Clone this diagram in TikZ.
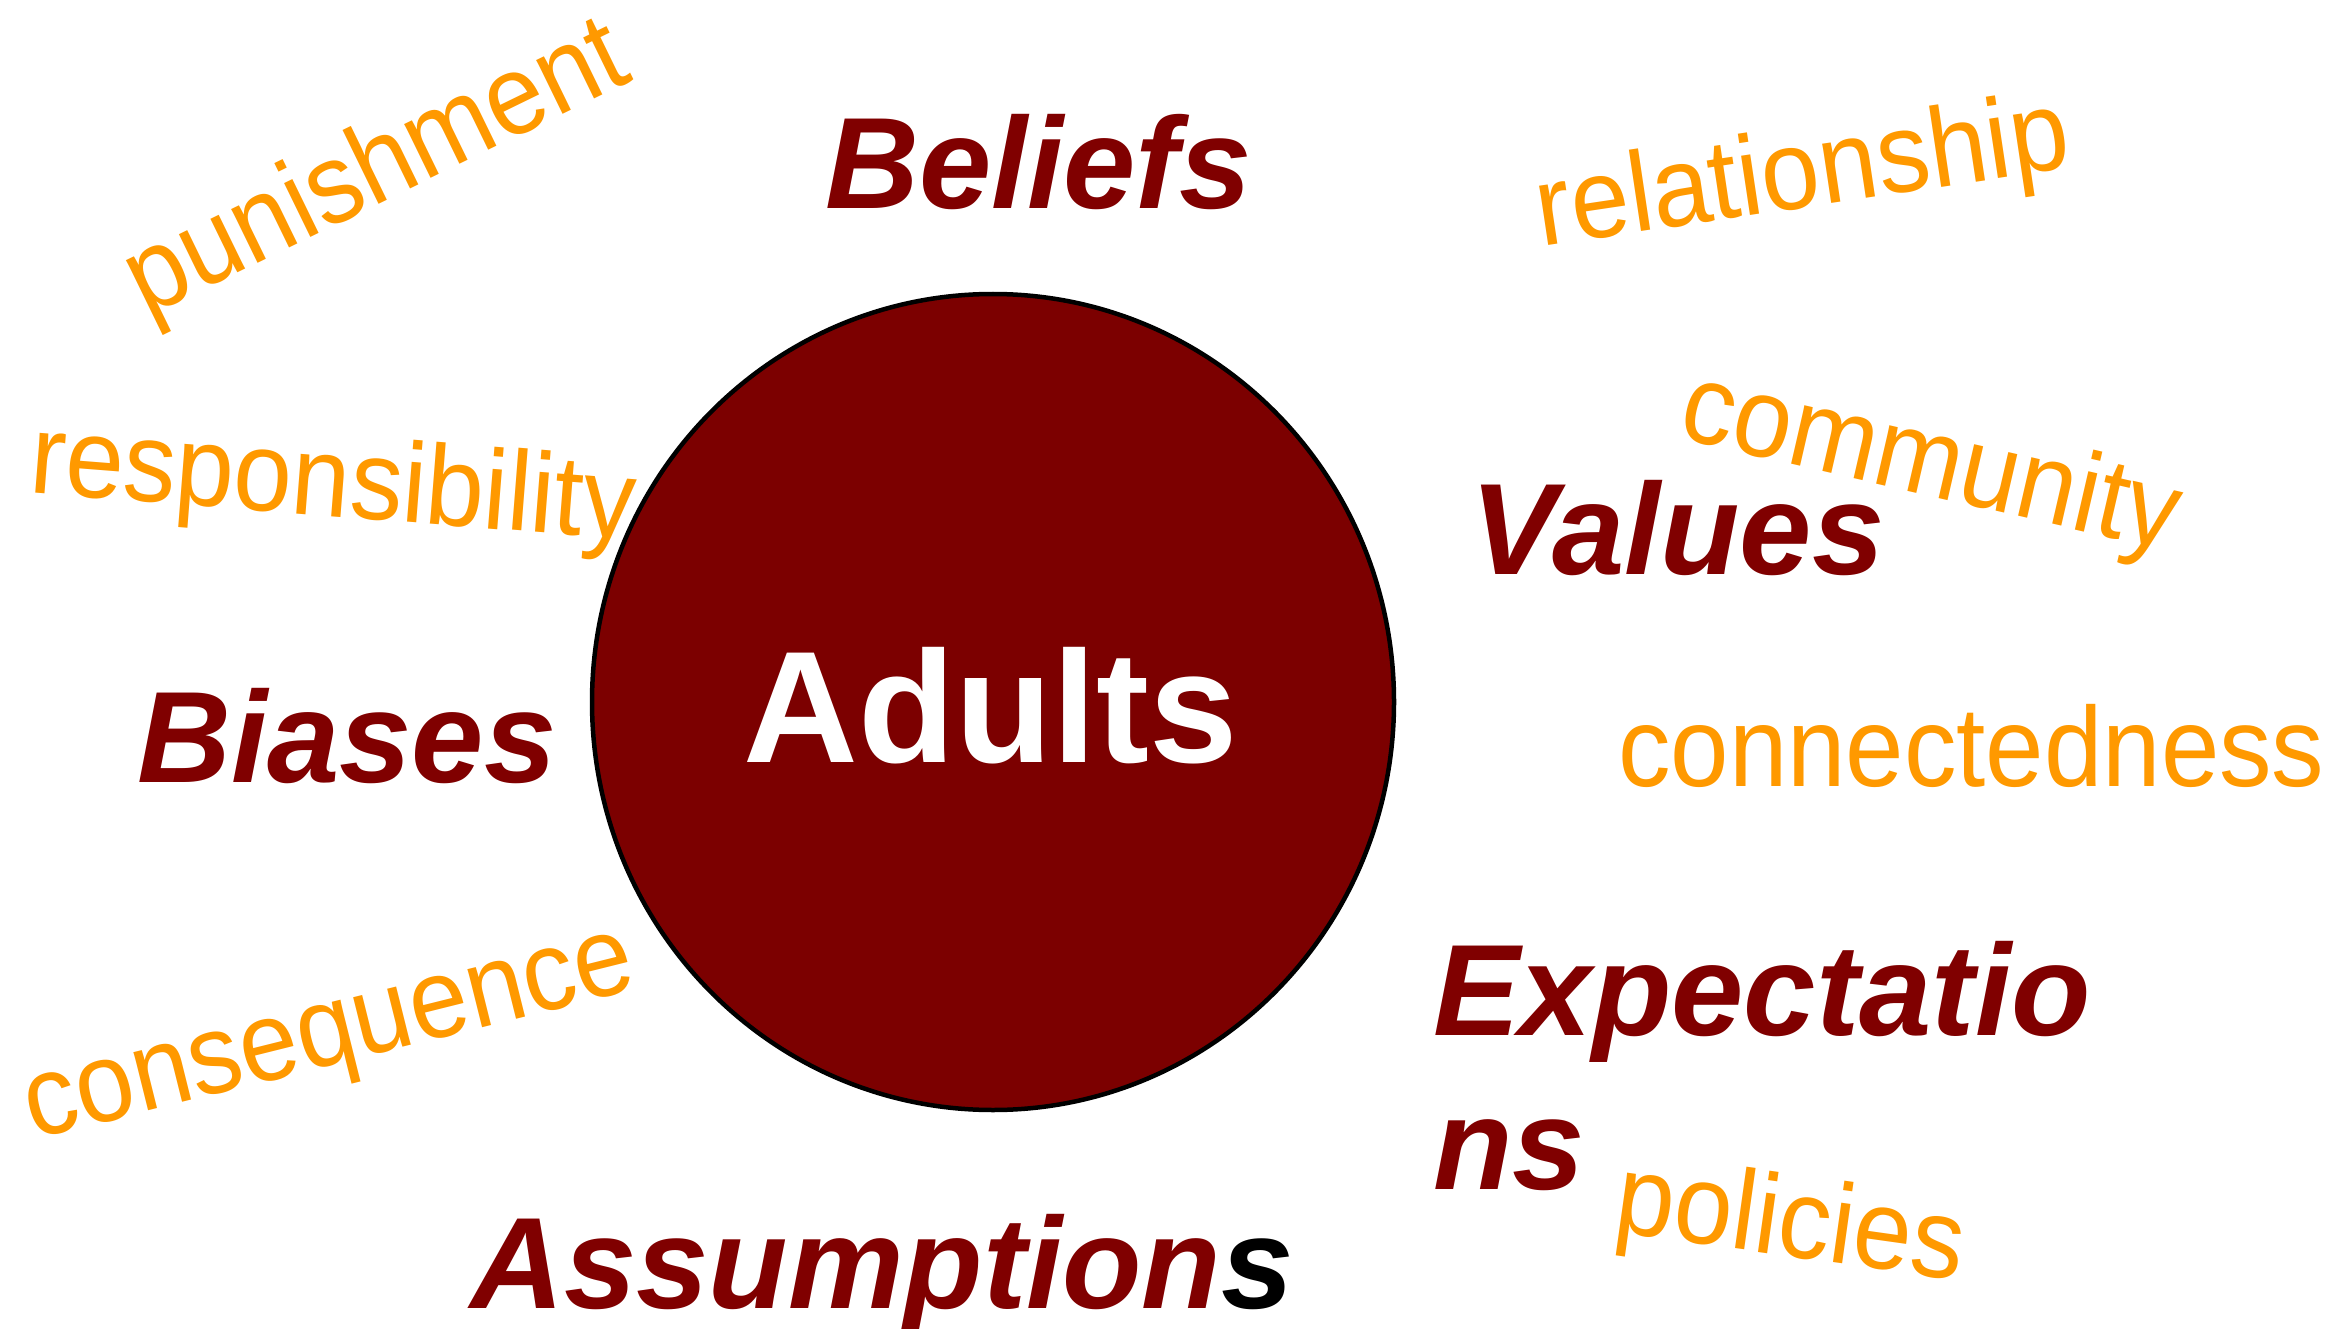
\documentclass[tikz,border=0pt]{standalone}
\usepackage{fontspec}
\setmainfont{Liberation Sans}
\definecolor{maroonA}{HTML}{800000}
\definecolor{discfill}{HTML}{7C0000}
\definecolor{orangeA}{HTML}{FF9900}
\newcommand{\tallword}[1]{\scalebox{1}[1.08]{#1}}
\begin{document}
\begin{tikzpicture}[x=1pt,y=-1pt,
  keyword/.style={inner sep=0pt, anchor=base west, text=maroonA,
    font=\fontsize{130}{150}\selectfont\bfseries\itshape},
  theme/.style={inner sep=0pt, text=orangeA,
    font=\fontsize{105}{120}\selectfont},
  disc/.style={draw=black, line width=4.5pt, fill=discfill}]
\useasboundingbox (0,0) rectangle (2339,1329);

% central disc
\draw[disc] (993,702) ellipse [x radius=401, y radius=408];
\node[inner sep=0pt, anchor=base, text=white,
      font=\fontsize{159}{170}\selectfont\bfseries] (adults) at (991,762) {Adults};

% dark red keywords around the disc
\node[keyword] (beliefs) at (825,209) {Beliefs};
\node[keyword] (values) at (1470,574) {Values};
\node[keyword] (biases) at (137,782) {Biases};
\node[keyword] (expectA) at (1433,1035) {Expectatio};
\node[keyword] (expectB) at (1433,1189) {ns};
\node[keyword] (assumptions) at (470,1308) {Assumption{\color{black}s}};

% orange themes
\node[theme, rotate=26] (punishment) at (378,172) {\tallword{punishment}};
\node[theme, rotate=8.5] (relationship) at (1803,178) {\tallword{relationship}};
\node[theme, rotate=-13] (community) at (1930,466) {\tallword{community}};
\node[theme, rotate=-4.5] (responsibility) at (333,487) {\tallword{responsibility}};
\node[theme, anchor=base west] (connectedness) at (1618,786) {\tallword{connectedness}};
\node[theme, rotate=14] (consequence) at (332,1046) {\tallword{consequence}};
\node[theme, rotate=-8] (policies) at (1790,1227) {\tallword{policies}};
\end{tikzpicture}
\end{document}
